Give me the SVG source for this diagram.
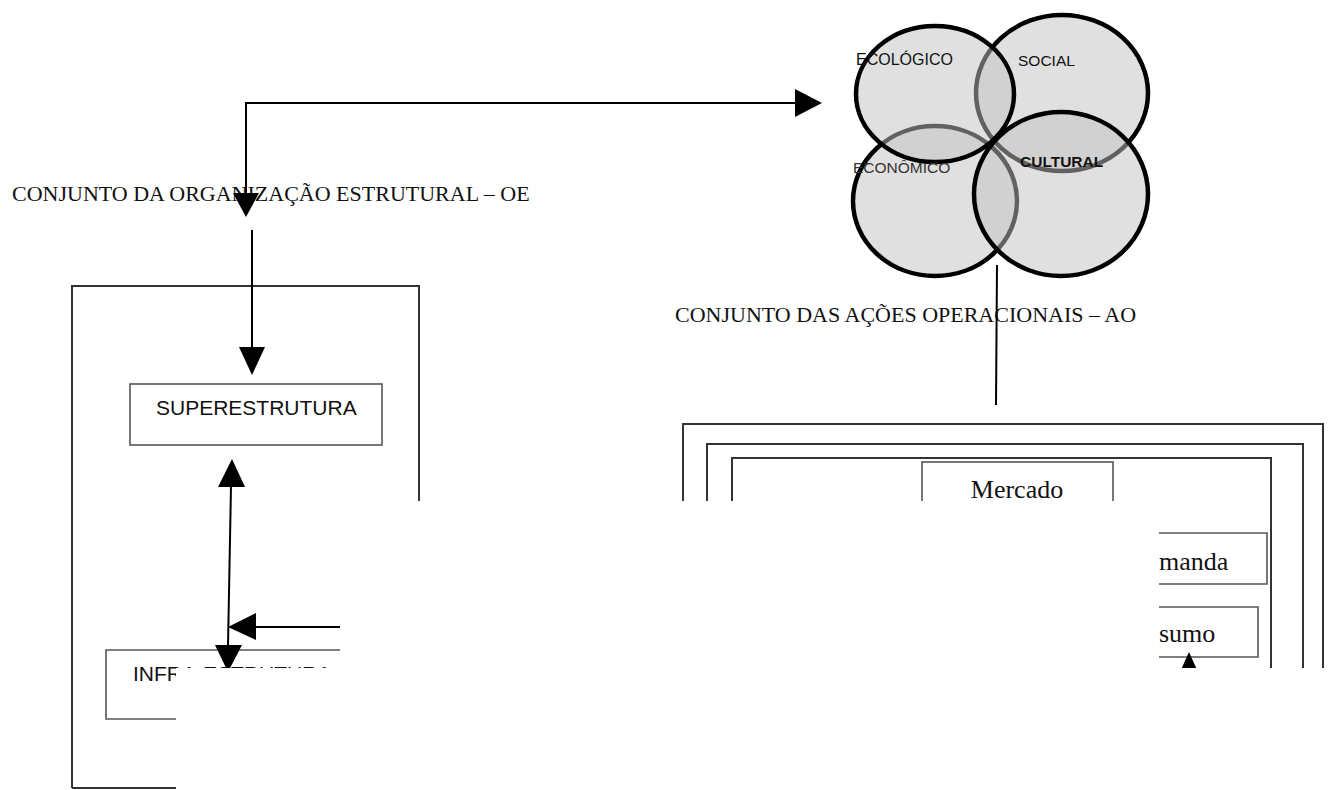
<svg xmlns="http://www.w3.org/2000/svg" width="1332" height="790" viewBox="0 0 1332 790">
<style>
.box{fill:none;stroke:#333;stroke-width:2}
.thin{fill:none;stroke:#555;stroke-width:1.6}
.line{fill:none;stroke:#000;stroke-width:2}
.head{fill:#000}
.circ{fill:rgb(193,193,193);fill-opacity:0.5;stroke:#000;stroke-width:4.5}
.sans{font-family:"Liberation Sans",Arial,sans-serif;fill:#111}
.serif{font-family:"Liberation Serif","Times New Roman",serif;fill:#111}
.cover{fill:#fff}
</style>
<rect width="1332" height="790" fill="#fff"/>

<g id="venn">
  <ellipse class="circ" cx="1062" cy="93" rx="86" ry="78"/>
  <ellipse class="circ" cx="935" cy="201" rx="82" ry="75"/>
  <ellipse class="circ" cx="935" cy="94" rx="79" ry="68"/>
  <ellipse class="circ" cx="1061" cy="194" rx="87" ry="82"/>
  <text class="sans" x="856" y="65" font-size="16">ECOLÓGICO</text>
  <text class="sans" x="1018" y="66" font-size="15.5">SOCIAL</text>
  <text class="sans" x="853" y="173" font-size="15.5" style="fill:#333">ECONÔMICO</text>
  <text class="sans" x="1020" y="167" font-size="15.5" font-weight="bold">CULTURAL</text>
</g>

<g id="label-oe">
  <text class="serif" x="12" y="201" font-size="22">CONJUNTO DA ORGANIZAÇÃO ESTRUTURAL – OE</text>
</g>
<g id="label-ao">
  <text class="serif" x="675" y="322" font-size="22">CONJUNTO DAS AÇÕES OPERACIONAIS – AO</text>
</g>

<g id="oe-container">
  <path class="box" d="M72,788 V286 H419 V510"/>
  <path class="box" d="M72,788 H176"/>
</g>
<g id="superestrutura">
  <rect class="thin" x="130" y="384" width="252" height="61"/>
  <text class="sans" x="156" y="415" font-size="21">SUPERESTRUTURA</text>
</g>
<g id="infraestrutura">
  <path class="thin" d="M360,650 H106 V719 H200"/>
  <text class="sans" x="133" y="681" font-size="21">INFRA-ESTRUTURA</text>
</g>

<g id="ao-container">
  <path class="box" d="M683,520 V424 H1323 V680"/>
  <path class="box" d="M707,520 V444 H1303 V680"/>
  <path class="box" d="M732,520 V458 H1271 V680"/>
</g>
<g id="mercado">
  <rect class="thin" x="922" y="462" width="191" height="60"/>
  <text class="serif" x="1017" y="498" font-size="26" text-anchor="middle">Mercado</text>
</g>
<g id="demanda">
  <path class="thin" d="M1140,533 H1267 V584 H1140"/>
  <text class="serif" x="1159" y="570" font-size="26">manda</text>
</g>
<g id="consumo">
  <path class="thin" d="M1140,607 H1258 V657 H1140"/>
  <text class="serif" x="1159" y="642" font-size="26">sumo</text>
</g>

<g id="connectors">
  <path class="line" d="M246,193 V103 H796"/>
  <polygon class="head" points="795,89 822,103 795,117"/>
  <polygon class="head" points="233,193 259,193 246,217"/>
  <path class="line" d="M252,230 V348"/>
  <polygon class="head" points="239,347 265,347 252,375"/>
  <path class="line" d="M231,486 L228,646"/>
  <polygon class="head" points="218,487 245,487 232,459"/>
  <polygon class="head" points="215,645 242,645 228,672"/>
  <path class="line" d="M255,627 H345"/>
  <polygon class="head" points="256,613 256,640 228,627"/>
  <path class="line" d="M997,265 L996,405"/>
  <polygon class="head" points="1180,672 1198,672 1189,652"/>
</g>

<g id="covers">
  <rect class="cover" x="176" y="668" width="1156" height="122"/>
  <rect class="cover" x="340" y="501" width="819" height="167"/>
</g>
</svg>
